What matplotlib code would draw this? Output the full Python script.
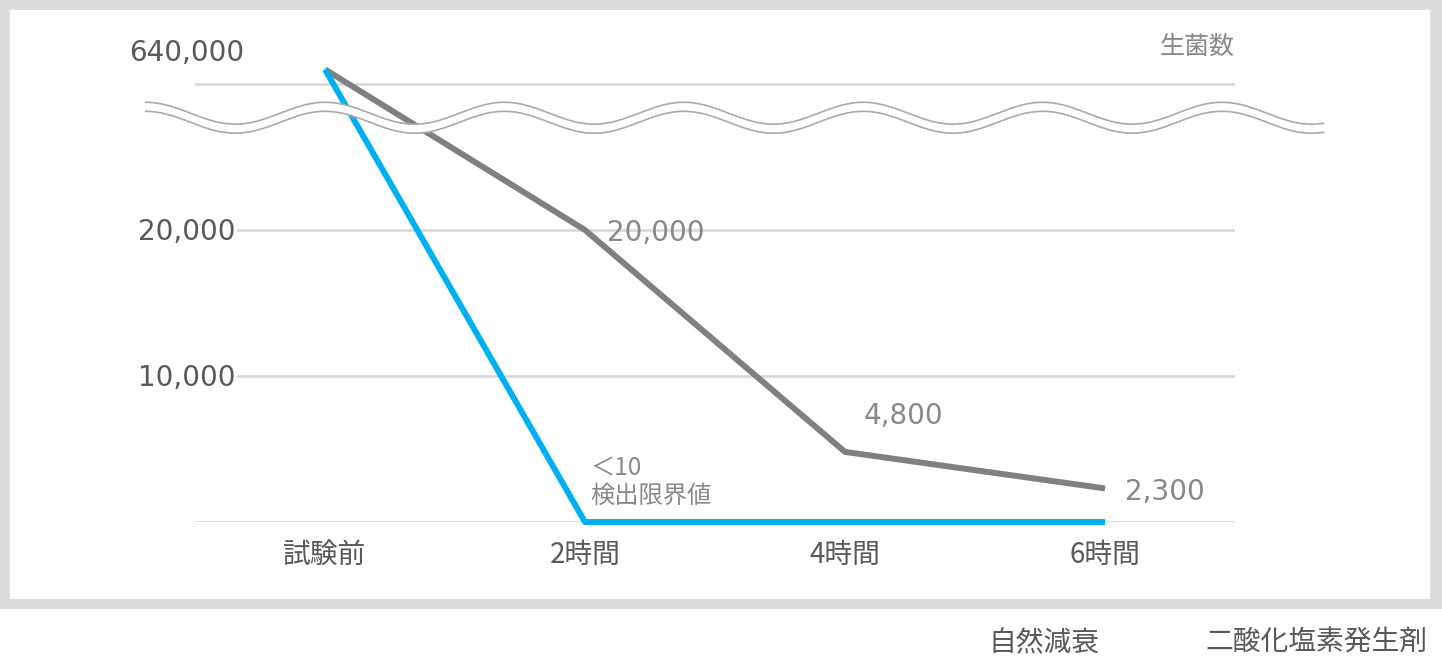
import numpy as np
import matplotlib.pyplot as plt
from matplotlib.patches import Rectangle

plt.rcParams['font.family'] = ['Noto Sans CJK JP', 'DejaVu Sans']
NUM_FONT = ['DejaVu Sans', 'Noto Sans CJK JP']

# data
categories = ['試験前', '2時間', '4時間', '6時間']
series_names = ['自然減衰', '二酸化塩素発生剤']
natural = [640000, 20000, 4800, 2300]
chlorine = [640000, 0, 0, 0]
natural_labels = ['', '20,000', '4,800', '2,300']
chlorine_label = '＜10\n検出限界値'
ytick_values = [10000, 20000]
ytick_labels = ['10,000', '20,000']
top_label = '640,000'
unit_label = '生菌数'

# the axis is broken above 20,000: values beyond it sit on the top band
BREAK_LIMIT = 20000
BREAK_POS = 31000
TOP_GRID = 30000


def pos(v):
    return v if v <= BREAK_LIMIT else BREAK_POS


GRAY = '#808080'
BLUE = '#00b0f0'
TICK = '#595959'
NOTE = '#888888'
GRID = '#d9d9d9'

W, H = 1442, 658
fig = plt.figure(figsize=(W / 100, H / 100), dpi=100)

# frame
fig.patches.append(Rectangle((0, 49 / H), 1, 609 / H, transform=fig.transFigure,
                             facecolor='#dcdcdc', edgecolor='none', zorder=-10))
fig.patches.append(Rectangle((10 / W, 59 / H), 1420 / W, 589 / H, transform=fig.transFigure,
                             facecolor='white', edgecolor='none', zorder=-9))

ax = fig.add_axes([195 / W, (H - 522) / H, 1040 / W, 492 / H])
ax.set_facecolor('none')
ax.set_xlim(-0.5, 3.5)
ax.set_ylim(0, 33700)
for s in ax.spines.values():
    s.set_visible(False)

x = np.arange(len(categories))

# gridlines
for g in [0] + ytick_values + [TOP_GRID]:
    ax.axhline(g, color=GRID, lw=2, zorder=1)

ax.set_yticks([])
ax.set_xticks(x)
ax.set_xticklabels(categories, fontsize=20, color=TICK)
ax.tick_params(axis='x', length=0, pad=13)

# y labels drawn over the gridlines
for v, lab in zip(ytick_values, ytick_labels):
    ax.annotate(lab, (-0.345, v), xytext=(0, -2), textcoords='offset pixels',
                ha='right', va='center', fontsize=20, color=TICK, family=NUM_FONT,
                bbox=dict(facecolor='white', edgecolor='none', pad=1), zorder=3,
                annotation_clip=False)
ax.annotate(top_label, (-0.5, TOP_GRID), xytext=(-8, 31), textcoords='offset pixels',
            ha='center', va='center', fontsize=20, color=TICK, family=NUM_FONT,
            annotation_clip=False)
ax.annotate(unit_label, (3.5, TOP_GRID), xytext=(0, 37), textcoords='offset pixels',
            ha='right', va='center', fontsize=18, color=NOTE, annotation_clip=False)

# lines
ax.plot(x, [pos(v) for v in natural], color=GRAY, lw=4.3, zorder=4,
        solid_capstyle='butt', clip_on=False)
ax.plot(x, [pos(v) for v in chlorine], color=BLUE, lw=4.3, zorder=4,
        solid_capstyle='butt', clip_on=False)

# data labels
offsets = [None, (22, -3), (19, 36), (20, -4)]
for xi, v, lab, off in zip(x, natural, natural_labels, offsets):
    if lab:
        ax.annotate(lab, (xi, pos(v)), xytext=off, textcoords='offset pixels',
                    ha='left', va='center', fontsize=20, color=NOTE, family=NUM_FONT)
ax.annotate(chlorine_label, (x[1], pos(chlorine[1])), xytext=(5, 40), textcoords='offset pixels',
            ha='left', va='center', fontsize=17.5, color=NOTE, linespacing=1.1)

# break symbol: two wavy lines with white between them
wx = np.linspace(-0.69, 3.84, 600)
period = 0.69
amp = 750
center = 28000
gap = 620
upper = center + amp * np.cos(2 * np.pi * wx / period)
lower = upper - gap
ax.fill_between(wx, lower, upper, color='white', zorder=5, clip_on=False, lw=0)
ax.plot(wx, upper, color='#aaaaaa', lw=1.2, zorder=6, clip_on=False)
ax.plot(wx, lower, color='#aaaaaa', lw=1.2, zorder=6, clip_on=False)

# legend text
fig.text(988 / W, (H - 643) / H, series_names[0], ha='left', va='center', fontsize=20, color=TICK)
fig.text(1205 / W, (H - 643) / H, series_names[1], ha='left', va='center', fontsize=20, color=TICK)

fig.savefig('out.png', dpi=100)
